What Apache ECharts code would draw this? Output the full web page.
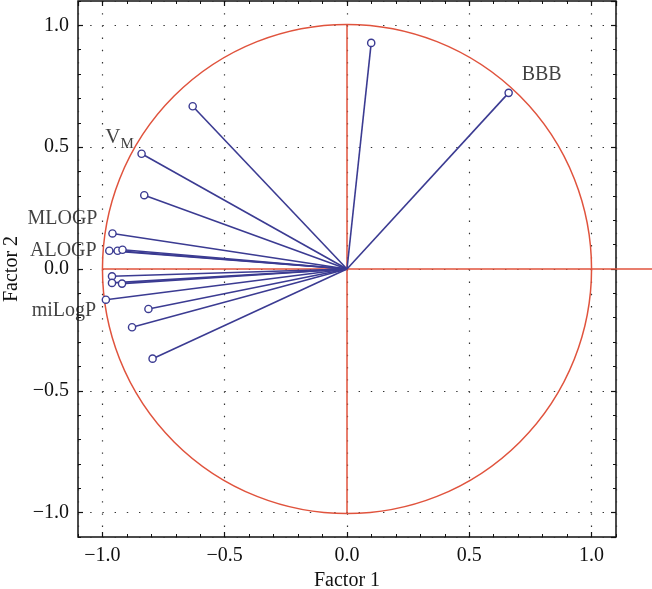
<!DOCTYPE html>
<html><head><meta charset="utf-8">
<script src="https://cdn.jsdelivr.net/npm/echarts@6/dist/echarts.min.js"></script>
<style>html,body{margin:0;padding:0;background:#fff}#c{width:652px;height:589px}</style>
</head><body><div id="c"></div>
<script>
// ---- data ----
const factor1 = [0.099, 0.661, -0.631, -0.840, -0.829, -0.959, -0.972, -0.938, -0.918, -0.961, -0.961, -0.920, -0.986, -0.812, -0.879, -0.795];
const factor2 = [0.928, 0.723, 0.668, 0.473, 0.303, 0.146, 0.075, 0.075, 0.079, -0.030, -0.057, -0.060, -0.126, -0.164, -0.239, -0.368];
const variableNames = ['', 'BBB', '', 'V_M', '', 'MLOGP', 'ALOGP', '', '', '', '', '', 'miLogP', '', '', ''];
const axisMin = -1.1, axisMax = 1.1;
const minorStep = 0.1;
const circleRadius = 1;
const horizontalGuideEnd = 1.25;
const xName = 'Factor 1', yName = 'Factor 2';

// ---- style ----
const FONT = 'Liberation Serif';
const FS = 20;
const RED = '#e0533d', BLUE = '#3b3b92', INK = '#111';
const labelStyles = {
  'BBB':    { offset: [33, -18] },
  'V_M':    { offset: [-22, -16] },
  'MLOGP':  { offset: [-50, -15] },
  'ALOGP':  { offset: [-46, 0] },
  'miLogP': { offset: [-42, 11] }
};

function fmt(v) {
  if (Math.abs(v * 2 - Math.round(v * 2)) > 1e-6) return '';
  return (v < -1e-9 ? '\u2212' : '') + Math.abs(v).toFixed(1);
}
const dotted = { color: '#333', width: 1.2, type: [1.4, 10.8] };

function majorAxis(pos, showLabel, extra) {
  return Object.assign({
    type: 'value', position: pos, min: axisMin, max: axisMax,
    axisLine: { show: false, onZero: false },
    axisTick: { show: true, inside: true, length: 5, lineStyle: { color: INK, width: 1.2 } },
    axisLabel: { show: showLabel, formatter: fmt, showMinLabel: false, showMaxLabel: false,
      fontFamily: FONT, fontSize: FS, color: INK, margin: 9 },
    splitLine: { show: false }
  }, extra || {});
}
function minorAxis(pos) {
  return {
    type: 'value', position: pos, min: axisMin, max: axisMax, interval: minorStep,
    axisLine: { show: false, onZero: false },
    axisTick: { show: true, inside: true, length: 3, lineStyle: { color: INK, width: 1 } },
    axisLabel: { show: false }, splitLine: { show: false }
  };
}

const vectorData = factor1.map((x, i) => [x, factor2[i]]);
const labelData = factor1.map((x, i) => {
  const n = variableNames[i];
  if (!n) return null;
  return { value: [x, factor2[i]], name: n,
    label: Object.assign({ show: true, position: 'inside', align: 'center', verticalAlign: 'middle' }, labelStyles[n]) };
}).filter(Boolean);

const chart = echarts.init(document.getElementById('c'), null, { renderer: 'canvas' });
chart.setOption({
  animation: false,
  backgroundColor: '#fff',
  grid: { left: 78, right: 36, top: 1, bottom: 52, outerBoundsMode: 'none', containLabel: false,
    show: true, borderColor: INK, borderWidth: 1.5, backgroundColor: 'transparent' },
  xAxis: [
    majorAxis('bottom', true, {
      name: xName, nameLocation: 'middle', nameGap: 33,
      nameTextStyle: { fontFamily: FONT, fontSize: FS, color: INK },
      splitLine: { show: true, lineStyle: dotted }
    }),
    minorAxis('bottom'),
    majorAxis('top', false),
    minorAxis('top')
  ],
  yAxis: [
    majorAxis('left', true, {
      name: yName, nameLocation: 'middle', nameGap: 56, nameRotate: 90,
      nameTextStyle: { fontFamily: FONT, fontSize: FS, color: INK },
      splitLine: { show: true, lineStyle: dotted }
    }),
    minorAxis('left'),
    majorAxis('right', false),
    minorAxis('right')
  ],
  series: [
    {
      type: 'custom', name: 'guides', clip: false, silent: true,
      data: [[0, 0]],
      renderItem: function (params, api) {
        const c = api.coord([0, 0]);
        const r = api.size([circleRadius, circleRadius])[0];
        const t = api.coord([0, circleRadius]), b = api.coord([0, -circleRadius]);
        const l = api.coord([-circleRadius, 0]), rr = api.coord([horizontalGuideEnd, 0]);
        return { type: 'group', children: [
          { type: 'circle', shape: { cx: c[0], cy: c[1], r: r }, style: { fill: 'none', stroke: RED, lineWidth: 1.5 } },
          { type: 'line', shape: { x1: t[0], y1: t[1], x2: b[0], y2: b[1] }, style: { stroke: RED, lineWidth: 1.5 } },
          { type: 'line', shape: { x1: l[0], y1: l[1], x2: rr[0], y2: rr[1] }, style: { stroke: RED, lineWidth: 1.5 } }
        ] };
      }
    },
    {
      type: 'custom', name: 'loadings', clip: false, silent: true,
      data: vectorData,
      renderItem: function (params, api) {
        const o = api.coord([0, 0]);
        const p = api.coord([api.value(0), api.value(1)]);
        return { type: 'group', children: [
          { type: 'line', shape: { x1: o[0], y1: o[1], x2: p[0], y2: p[1] }, style: { stroke: BLUE, lineWidth: 1.6 } },
          { type: 'circle', shape: { cx: p[0], cy: p[1], r: 3.6 }, style: { fill: '#fff', stroke: BLUE, lineWidth: 1.4 } }
        ] };
      }
    },
    {
      type: 'scatter', name: 'labels', symbolSize: 0, silent: true,
      data: labelData,
      label: {
        show: true, fontFamily: FONT, fontSize: FS, color: INK,
        formatter: function (p) {
          if (p.name === 'V_M') return '{v|V}{s|M}';
          return p.name;
        },
        rich: {
          v: { fontFamily: FONT, fontSize: 21, color: INK, lineHeight: 22, verticalAlign: 'top' },
          s: { fontFamily: FONT, fontSize: 15, color: INK, lineHeight: 15, padding: [10, 0, 0, 0], verticalAlign: 'top' }
        }
      }
    }
  ]
});
</script></body></html>
